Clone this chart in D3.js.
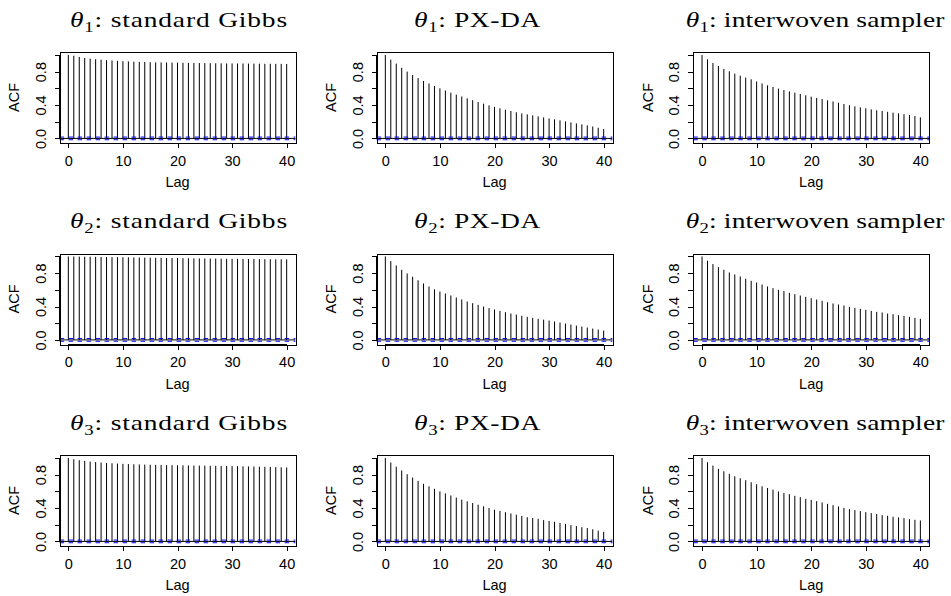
<!DOCTYPE html>
<html>
<head>
<meta charset="UTF-8">
<title>ACF by sampler</title>
<script src="https://d3js.org/d3.v7.min.js"></script>
<style>
    body { margin: 0; background: #fff; }
    .axis text { font-family: "Liberation Sans", Arial, sans-serif; font-size: 14.5px; fill: #000; }
    .axis path, .axis line { stroke: #000; shape-rendering: crispEdges; }
    .lab { font-family: "Liberation Sans", Arial, sans-serif; font-size: 14.5px; }
    .title { font-family: "Liberation Serif", "Times New Roman", serif; font-size: 22px; }
</style>
</head>
<body>
<div id="chart"></div>
<script>
const lags = d3.range(0, 41);
const xTicks = [0, 10, 20, 30, 40];
const yTicks = [0, 0.2, 0.4, 0.6, 0.8, 1.0];
const yTickLabels = ["0.0", "", "0.4", "", "0.8", ""];
const params = ["1", "2", "3"];
const samplers = ["standard Gibbs", "PX-DA", "interwoven sampler"];
const ciBound = 0.016;

// theta_1
const gibbs1 = [1.000, 0.990, 0.976, 0.964, 0.956, 0.949, 0.943, 0.937, 0.933, 0.929, 0.925, 0.922, 0.919, 0.917, 0.915, 0.913, 0.911, 0.910, 0.909, 0.908, 0.907, 0.906, 0.905, 0.904, 0.903, 0.902, 0.901, 0.900, 0.899, 0.898, 0.898, 0.897, 0.897, 0.896, 0.896, 0.895, 0.894, 0.894, 0.893, 0.893, 0.892];
const pxda1 = [1.000, 0.944, 0.896, 0.846, 0.800, 0.760, 0.722, 0.688, 0.658, 0.628, 0.600, 0.574, 0.548, 0.524, 0.502, 0.480, 0.458, 0.436, 0.416, 0.396, 0.378, 0.360, 0.344, 0.328, 0.313, 0.300, 0.288, 0.276, 0.264, 0.252, 0.240, 0.228, 0.216, 0.204, 0.192, 0.180, 0.168, 0.156, 0.143, 0.128, 0.112];
const inter1 = [1.000, 0.948, 0.904, 0.868, 0.832, 0.804, 0.776, 0.752, 0.728, 0.708, 0.682, 0.658, 0.636, 0.616, 0.596, 0.580, 0.564, 0.548, 0.532, 0.516, 0.500, 0.485, 0.471, 0.456, 0.443, 0.428, 0.412, 0.397, 0.384, 0.372, 0.360, 0.348, 0.337, 0.328, 0.319, 0.308, 0.300, 0.291, 0.280, 0.268, 0.252];
// theta_2
const gibbs2 = [1.000, 0.999, 0.998, 0.997, 0.996, 0.995, 0.994, 0.993, 0.992, 0.991, 0.990, 0.989, 0.988, 0.987, 0.986, 0.985, 0.984, 0.983, 0.982, 0.981, 0.980, 0.979, 0.978, 0.977, 0.976, 0.975, 0.974, 0.974, 0.973, 0.972, 0.971, 0.971, 0.970, 0.969, 0.969, 0.968, 0.967, 0.967, 0.966, 0.966, 0.965];
const pxda2 = [1.000, 0.944, 0.892, 0.840, 0.796, 0.756, 0.714, 0.676, 0.640, 0.606, 0.580, 0.556, 0.532, 0.508, 0.484, 0.460, 0.440, 0.420, 0.400, 0.380, 0.364, 0.348, 0.332, 0.316, 0.304, 0.289, 0.276, 0.264, 0.252, 0.243, 0.232, 0.220, 0.208, 0.196, 0.184, 0.172, 0.160, 0.148, 0.136, 0.124, 0.112];
const inter2 = [1.000, 0.948, 0.908, 0.872, 0.840, 0.808, 0.784, 0.760, 0.732, 0.708, 0.688, 0.664, 0.640, 0.620, 0.600, 0.584, 0.564, 0.548, 0.532, 0.516, 0.500, 0.484, 0.468, 0.452, 0.436, 0.424, 0.412, 0.396, 0.384, 0.372, 0.360, 0.348, 0.336, 0.328, 0.316, 0.308, 0.296, 0.288, 0.276, 0.264, 0.252];
// theta_3
const gibbs3 = [1.000, 0.984, 0.973, 0.964, 0.956, 0.950, 0.945, 0.940, 0.936, 0.932, 0.929, 0.926, 0.924, 0.922, 0.920, 0.918, 0.917, 0.916, 0.914, 0.913, 0.912, 0.911, 0.910, 0.909, 0.908, 0.907, 0.906, 0.905, 0.904, 0.903, 0.902, 0.901, 0.900, 0.898, 0.897, 0.895, 0.894, 0.892, 0.890, 0.888, 0.886];
const pxda3 = [1.000, 0.945, 0.895, 0.850, 0.805, 0.765, 0.725, 0.690, 0.660, 0.630, 0.600, 0.575, 0.550, 0.525, 0.500, 0.480, 0.460, 0.440, 0.420, 0.400, 0.380, 0.365, 0.350, 0.335, 0.320, 0.305, 0.290, 0.280, 0.270, 0.255, 0.245, 0.235, 0.220, 0.210, 0.195, 0.185, 0.170, 0.160, 0.145, 0.130, 0.115];
const inter3 = [1.000, 0.948, 0.908, 0.869, 0.840, 0.810, 0.780, 0.757, 0.733, 0.709, 0.685, 0.660, 0.640, 0.620, 0.598, 0.580, 0.566, 0.546, 0.530, 0.510, 0.498, 0.482, 0.466, 0.450, 0.434, 0.418, 0.402, 0.386, 0.375, 0.363, 0.350, 0.339, 0.327, 0.315, 0.307, 0.295, 0.287, 0.279, 0.267, 0.259, 0.251];

const acfRows = [[gibbs1, pxda1, inter1], [gibbs2, pxda2, inter2], [gibbs3, pxda3, inter3]];

// layout
const width = 951, height = 596;
const colLeft = [59.6, 376.6, 693.3];
const rowTop = [52, 253.5, 455];
const boxW = 235.8, boxH = 91;
const titleShift = [1.5, -17, 4];
const titleWidth = [218, 127, 259];

const svg = d3.select('#chart')
    .append('svg')
    .attr('width', width)
    .attr('height', height);

svg.append('rect').attr('width', width).attr('height', height).attr('fill', '#fff');

function drawPanel(row, col) {
    const acf = acfRows[row][col];
    const left = colLeft[col], top = rowTop[row];
    const g = svg.append('g');

    const xScale = d3.scaleLinear().domain([-1.6, 41.6]).range([left, left + boxW]);
    const yScale = d3.scaleLinear().domain([-0.055, 1.035]).range([top + boxH, top]);

    // ACF spikes
    g.selectAll('line.spike')
        .data(lags)
        .enter().append('line')
        .attr('class', 'spike')
        .attr('x1', d => xScale(d))
        .attr('x2', d => xScale(d))
        .attr('y1', yScale(0))
        .attr('y2', d => yScale(acf[d]))
        .attr('stroke', '#000')
        .attr('stroke-width', 1);

    // zero line
    g.append('line')
        .attr('x1', left).attr('x2', left + boxW)
        .attr('y1', yScale(0)).attr('y2', yScale(0))
        .attr('stroke', '#000').attr('stroke-width', 1);

    // confidence bounds
    [ciBound, -ciBound].forEach(c => {
        g.append('line')
            .attr('x1', left).attr('x2', left + boxW)
            .attr('y1', yScale(c)).attr('y2', yScale(c))
            .attr('stroke', '#0000ff').attr('stroke-width', 1)
            .attr('stroke-dasharray', '4.5,4.5');
    });

    // box
    g.append('rect')
        .attr('x', Math.round(left) + 0.5).attr('y', Math.round(top) + 0.5)
        .attr('width', Math.round(boxW)).attr('height', boxH)
        .attr('fill', 'none').attr('stroke', '#000')
        .attr('shape-rendering', 'crispEdges');

    // x axis
    const xAxis = g.append('g')
        .attr('class', 'axis')
        .attr('transform', 'translate(0,' + (top + boxH) + ')')
        .call(d3.axisBottom(xScale).tickValues(xTicks).tickSize(5).tickSizeOuter(0).tickFormat(d3.format('d')));
    xAxis.select('.domain').remove();
    xAxis.append('line')
        .attr('x1', xScale(xTicks[0])).attr('x2', xScale(xTicks[xTicks.length - 1]))
        .attr('stroke', '#000');
    xAxis.selectAll('text').attr('y', 22.7).attr('dy', 0);

    // y axis
    const yAxis = g.append('g')
        .attr('class', 'axis')
        .attr('transform', 'translate(' + left + ',0)')
        .call(d3.axisLeft(yScale).tickValues(yTicks).tickSize(5).tickSizeOuter(0)
            .tickFormat((d, i) => yTickLabels[i]));
    yAxis.select('.domain').remove();
    yAxis.append('line')
        .attr('y1', yScale(yTicks[0])).attr('y2', yScale(yTicks[yTicks.length - 1]))
        .attr('stroke', '#000');
    yAxis.selectAll('text')
        .attr('transform', 'rotate(-90)')
        .attr('x', 0).attr('y', -14).attr('dy', 0)
        .attr('text-anchor', 'middle');

    // axis titles
    g.append('text')
        .attr('class', 'lab')
        .attr('x', left + boxW / 2)
        .attr('y', top + boxH + 44)
        .attr('text-anchor', 'middle')
        .text('Lag');
    g.append('text')
        .attr('class', 'lab')
        .attr('transform', 'translate(' + (left - 40.5) + ',' + (top + boxH / 2) + ') rotate(-90)')
        .attr('text-anchor', 'middle')
        .text('ACF');

    // panel title: widen mostly by stretching, rest by letter spacing
    const cx = left + boxW / 2 + titleShift[col];
    const title = g.append('text')
        .attr('class', 'title')
        .attr('x', cx)
        .attr('y', top - 25)
        .attr('text-anchor', 'middle');
    title.append('tspan').attr('font-style', 'italic').text('θ');
    title.append('tspan').attr('font-size', '15px').attr('dy', 5).text(params[row]);
    title.append('tspan').attr('dy', -5).text(': ' + samplers[col]);
    const nChars = title.text().length;
    const natural = title.node().getComputedTextLength();
    let sx = Math.min(titleWidth[col] / natural, 1.25);
    const ls = Math.max(0, (titleWidth[col] / sx - natural) / nChars);
    title.attr('letter-spacing', ls);
    sx = titleWidth[col] / title.node().getComputedTextLength();
    title.attr('transform', 'translate(' + cx + ',0) scale(' + sx + ',1) translate(' + (-cx) + ',0)');
}

for (let r = 0; r < 3; r++) {
    for (let c = 0; c < 3; c++) {
        drawPanel(r, c);
    }
}
</script>
</body>
</html>
